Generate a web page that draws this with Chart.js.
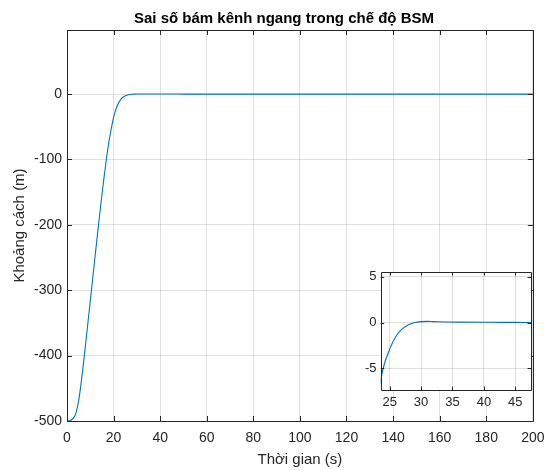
<!DOCTYPE html>
<html>
<head>
<meta charset="utf-8">
<script src="https://cdn.jsdelivr.net/npm/chart.js@4.4.1/dist/chart.umd.min.js"></script>
<style>
  html, body { margin:0; padding:0; background:#fff; }
  #wrap { position:relative; width:553px; height:470px; }
  #main { position:absolute; left:0; top:0; }
  #inset { position:absolute; left:340px; top:260px; }
</style>
</head>
<body>
<div id="wrap">
  <canvas id="main" width="553" height="470"></canvas>
  <canvas id="inset" width="200" height="160"></canvas>
</div>
<script>
// ---- data ----
const timeS = [0,1,2,3,4,5,6,7,8,9,10,11,12,13,14,15,16,17,18,19,20,21,22,23,24,25,26,27,28,29,30,31,32,34,36,40,45,50,200];
const errorM = [-500,-499.5,-498,-494.5,-486,-469,-444,-414,-382,-349,-316,-283,-250,-217,-185,-154,-124.5,-97,-73,-53,-35.5,-23.5,-14.5,-8.5,-4.9,-2.9,-1.5,-0.7,-0.25,0.0,0.1,0.12,0.1,0.06,0.04,0.02,0.01,0,0];
const xTicks = [0,20,40,60,80,100,120,140,160,180,200];
const yTicks = [-500,-400,-300,-200,-100,0];
const insetXTicks = [25,30,35,40,45];
const insetYTicks = [-5,0,5];
const titleText = 'Sai số bám kênh ngang trong chế độ BSM';
const xLabel = 'Thời gian (s)';
const yLabel = 'Khoảng cách (m)';

const FONT = '"Liberation Sans", Arial, Helvetica, sans-serif';
const AX = '#262626';
const GRID = 'rgba(38,38,38,0.15)';
const LINE = '#0072BD';

const points = timeS.map((t, i) => ({x: t, y: errorM[i]}));

const boxPlugin = {
  id: 'box',
  beforeDraw(chart, args, opts) {
    if (!opts.fill) return;
    const {ctx, chartArea: {left, right, top, bottom}} = chart;
    ctx.save();
    ctx.fillStyle = '#fff';
    ctx.fillRect(left, top, right - left, bottom - top);
    ctx.restore();
  },
  afterDatasetsDraw(chart, args, opts) {
    const {ctx, chartArea: {left, right, top, bottom}, scales: {x, y}} = chart;
    const L = opts.tick || 5;
    const a = v => Math.round(v) + 0.5;
    ctx.save();
    ctx.strokeStyle = AX;
    ctx.lineWidth = 1;
    ctx.beginPath();
    ctx.rect(a(left), a(top), Math.round(right) - Math.round(left), Math.round(bottom) - Math.round(top));
    x.ticks.forEach(t => {
      const px = a(x.getPixelForValue(t.value));
      ctx.moveTo(px, bottom); ctx.lineTo(px, bottom - L);
      ctx.moveTo(px, top); ctx.lineTo(px, top + L);
    });
    y.ticks.forEach(t => {
      const py = a(y.getPixelForValue(t.value));
      ctx.moveTo(left, py); ctx.lineTo(left + L, py);
      ctx.moveTo(right, py); ctx.lineTo(right - L, py);
    });
    ctx.stroke();
    if (opts.title) {
      ctx.fillStyle = '#000';
      ctx.font = 'bold 15px ' + FONT;
      ctx.textAlign = 'center';
      ctx.textBaseline = 'alphabetic';
      ctx.fillText(opts.title, opts.titleX, opts.titleY);
    }
    ctx.restore();
  }
};

function dataset() {
  return {
    data: points,
    borderColor: LINE,
    borderWidth: 1.1,
    pointRadius: 0,
    fill: false,
    cubicInterpolationMode: 'monotone'
  };
}

new Chart(document.getElementById('main'), {
  type: 'line',
  data: { datasets: [dataset()] },
  options: {
    responsive: false,
    animation: false,
    events: [],
    layout: { padding: { top: 30, right: 20, bottom: 0, left: 0 } },
    plugins: {
      legend: { display: false },
      tooltip: { enabled: false },
      box: { tick: 5, title: titleText, titleX: 284, titleY: 22.5 }
    },
    scales: {
      x: {
        type: 'linear', min: 0, max: 200,
        afterBuildTicks: s => { s.ticks = xTicks.map(v => ({value: v})); },
        afterFit: s => { s.height = 49; },
        grid: { color: GRID, drawTicks: false },
        border: { display: false },
        ticks: { color: AX, font: { family: FONT, size: 14 }, padding: 8.5, maxRotation: 0, autoSkip: false },
        title: { display: true, text: xLabel, color: AX, font: { family: FONT, size: 15 }, padding: { top: 0, bottom: 1 } }
      },
      y: {
        type: 'linear', min: -500, max: 98,
        afterBuildTicks: s => { s.ticks = yTicks.map(v => ({value: v})); },
        afterFit: s => { s.width = 67; },
        grid: { color: GRID, drawTicks: false },
        border: { display: false },
        ticks: { color: AX, font: { family: FONT, size: 14 }, padding: 5, autoSkip: false },
        title: { display: true, text: yLabel, color: AX, font: { family: FONT, size: 15 }, padding: { top: 11, bottom: 0 } }
      }
    }
  },
  plugins: [boxPlugin]
});

new Chart(document.getElementById('inset'), {
  type: 'line',
  data: { datasets: [dataset()] },
  options: {
    responsive: false,
    animation: false,
    events: [],
    layout: { padding: { top: 10, right: 9, bottom: 0, left: 0 } },
    plugins: {
      legend: { display: false },
      tooltip: { enabled: false },
      box: { tick: 3.5, fill: true }
    },
    scales: {
      x: {
        type: 'linear', min: 23.57, max: 47.5,
        afterBuildTicks: s => { s.ticks = insetXTicks.map(v => ({value: v})); },
        afterFit: s => { s.height = 30; },
        grid: { color: GRID, drawTicks: false },
        border: { display: false },
        ticks: { color: AX, font: { family: FONT, size: 13 }, padding: 5, maxRotation: 0, autoSkip: false }
      },
      y: {
        type: 'linear', min: -7.35, max: 5.5,
        afterBuildTicks: s => { s.ticks = insetYTicks.map(v => ({value: v})); },
        afterFit: s => { s.width = 40.7; },
        grid: { color: GRID, drawTicks: false },
        border: { display: false },
        ticks: { color: AX, font: { family: FONT, size: 13 }, padding: 4.2, autoSkip: false }
      }
    }
  },
  plugins: [boxPlugin]
});
</script>
</body>
</html>
